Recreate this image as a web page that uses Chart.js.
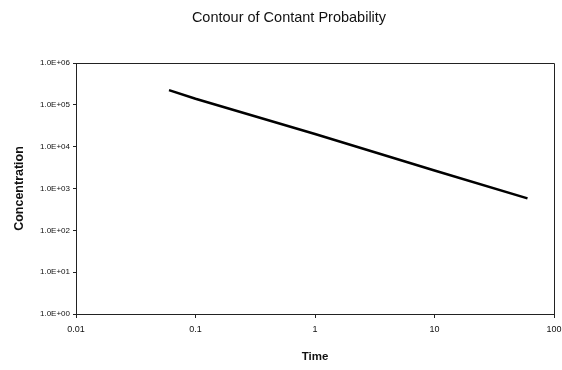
<!DOCTYPE html>
<html>
<head>
<meta charset="utf-8">
<script src="https://cdn.jsdelivr.net/npm/chart.js@4/dist/chart.umd.min.js"></script>
<style>
  html, body { margin: 0; padding: 0; background: #fff; }
  canvas { display: block; }
</style>
</head>
<body>
<canvas id="contourChart" width="562" height="370"></canvas>
<script>
// values
const times = [0.06, 0.1, 1, 10, 60];
const concentration = [224000, 140000, 20000, 2700, 580];

const xTickValues = [0.01, 0.1, 1, 10, 100];
const xTickLabels = ['0.01', '0.1', '1', '10', '100'];
const yTickValues = [1, 10, 100, 1000, 10000, 100000, 1000000];
const yTickLabels = ['1.0E+00', '1.0E+01', '1.0E+02', '1.0E+03', '1.0E+04', '1.0E+05', '1.0E+06'];

const FONT = 'Liberation Sans, Arial, sans-serif';

const frame = {
    id: 'frame',
    afterDraw(chart) {
        const c = chart.ctx;
        const a = chart.chartArea;
        c.save();
        c.strokeStyle = '#222';
        c.lineWidth = 1;
        c.beginPath();
        c.moveTo(a.left, a.top + 0.5);
        c.lineTo(a.right + 0.5, a.top + 0.5);
        c.lineTo(a.right + 0.5, a.bottom);
        c.stroke();
        c.fillStyle = '#111';
        c.font = '14.5px ' + FONT;
        c.textAlign = 'center';
        c.textBaseline = 'middle';
        c.fillText('Contour of Contant Probability', 289, 18);
        c.restore();
    }
};

const ctx = document.getElementById('contourChart').getContext('2d');
const chart = new Chart(ctx, {
    type: 'line',
    data: {
        datasets: [{
            label: 'Concentration',
            data: times.map((t, i) => ({ x: t, y: concentration[i] })),
            borderColor: '#000',
            borderWidth: 2.5,
            pointRadius: 0,
            tension: 0,
            fill: false
        }]
    },
    options: {
        responsive: false,
        animation: false,
        layout: { padding: { left: 0, right: 8, top: 63, bottom: 0 } },
        plugins: {
            legend: { display: false },
            title: { display: false },
            tooltip: { enabled: false }
        },
        scales: {
            x: {
                type: 'logarithmic',
                min: 0.01,
                max: 100,
                afterBuildTicks: s => { s.ticks = xTickValues.map(v => ({ value: v })); },
                afterFit: s => { s.height = 56; s.paddingLeft = 0; s.paddingRight = 0; },
                grid: { drawOnChartArea: false, drawTicks: true, tickLength: 4, color: '#222' },
                border: { display: true, color: '#222', width: 1 },
                ticks: {
                    color: '#111',
                    font: { family: FONT, size: 9 },
                    maxRotation: 0,
                    autoSkip: false,
                    padding: 6,
                    callback: (v, i) => xTickLabels[i]
                },
                title: {
                    display: true,
                    text: 'Time',
                    color: '#111',
                    font: { family: FONT, size: 11.5, weight: 'bold' },
                    padding: { top: 0, bottom: 6 }
                }
            },
            y: {
                type: 'logarithmic',
                min: 1,
                max: 1000000,
                afterBuildTicks: s => { s.ticks = yTickValues.map(v => ({ value: v })); },
                afterFit: s => { s.width = 76; s.paddingTop = 0; s.paddingBottom = 0; },
                grid: { drawOnChartArea: false, drawTicks: true, tickLength: 3, color: '#222' },
                border: { display: true, color: '#222', width: 1 },
                ticks: {
                    color: '#111',
                    font: { family: FONT, size: 8 },
                    autoSkip: false,
                    padding: 3,
                    callback: (v, i) => yTickLabels[i]
                },
                title: {
                    display: true,
                    text: 'Concentration',
                    color: '#111',
                    font: { family: FONT, size: 12.5, weight: 'bold' },
                    padding: { top: 12, bottom: 0 }
                }
            }
        }
    },
    plugins: [frame]
});
</script>
</body>
</html>
